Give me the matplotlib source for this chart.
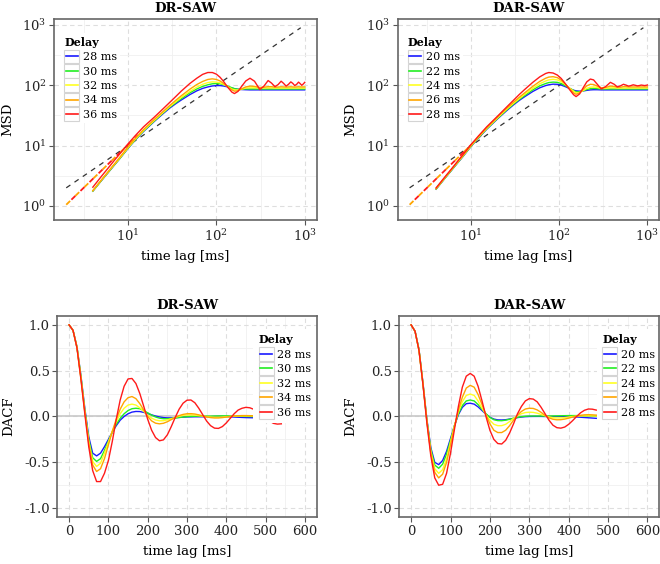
import numpy as np
import matplotlib
matplotlib.use('Agg')
import matplotlib.pyplot as plt
from matplotlib.legend_handler import HandlerBase
from matplotlib.patches import Rectangle
from matplotlib.lines import Line2D
from matplotlib.ticker import FixedLocator, LogFormatterSciNotation, FormatStrFormatter

plt.rcParams['font.family'] = ['DejaVu Serif']
plt.rcParams['mathtext.fontset'] = 'dejavuserif'

# ---------------- data ----------------
colors = ['#1a1aff', '#22ee22', '#ffff22', '#ffa500', '#ff1a1a']
dr_delays = ['28 ms', '30 ms', '32 ms', '34 ms', '36 ms']
dar_delays = ['20 ms', '22 ms', '24 ms', '26 ms', '28 ms']

# MSD, DR-SAW
dr_lag = [4, 5, 6, 7, 8, 10, 12, 15, 20, 25, 30, 35, 40, 50, 60, 70, 80, 90, 100, 110,
          120, 135, 150, 160, 175, 195, 215, 240, 270, 310, 345, 385, 420, 460, 500, 540,
          575, 615, 655, 695, 730, 770, 810, 850, 885, 925, 960, 1000]
dr_msd_28 = [1.76, 2.63, 3.62, 4.75, 6.0, 9.0, 12.3, 17.2, 25.5, 34, 42.5, 50, 57, 70, 81, 89,
             94, 97.5, 99, 99, 97.5, 94, 90, 88, 86, 85, 84.5, 84, 84, 84, 84, 84, 84, 84, 84,
             84, 84, 84, 84, 84, 84, 84, 84, 84, 84, 84, 84, 84]
dr_msd_30 = [1.77, 2.65, 3.65, 4.8, 6.05, 9.1, 12.4, 17.5, 26, 35, 44, 52, 60, 75, 87, 96,
             102, 106, 107, 106, 103, 97, 91, 88, 86, 86, 87, 87, 87, 87, 87, 87, 87, 87, 87,
             87, 87, 87, 87, 87, 87, 87, 87, 87, 87, 87, 87, 87]
dr_msd_32 = [1.78, 2.67, 3.7, 4.85, 6.1, 9.2, 12.6, 17.8, 26.5, 35.5, 45, 54, 63, 79, 93, 104,
             111, 114, 113, 110, 104, 95, 87, 84, 84, 87, 90, 91, 91, 90, 90, 90.5, 90.5, 90,
             90, 90, 90, 90, 90, 90, 90, 90, 90, 90, 90, 90, 90, 90]
dr_msd_34 = [1.8, 2.7, 3.75, 4.95, 6.3, 9.5, 13, 18.5, 27.5, 37, 47, 57, 67, 86, 103, 116,
             125, 128, 125, 118, 108, 94, 84, 80, 81, 88, 94, 97, 96, 92, 93, 95, 95, 93,
             93.5, 94.5, 94, 93.5, 94, 94.5, 94, 93.5, 94, 94.5, 94, 94, 94, 94]
dr_msd_36 = [2.05, 3.1, 4.3, 5.7, 7.2, 10.7, 14.5, 20.5, 30, 41, 53, 66, 80, 107, 131, 152,
             163, 163, 153, 136, 117, 92, 77, 73, 79, 98, 118, 131, 117, 85, 97, 120, 109, 95,
             103, 117, 108, 97, 104, 114, 108, 99, 104, 113, 107, 100, 105, 112]

# MSD, DAR-SAW
dar_lag = [4, 5, 6, 7, 8, 10, 12, 15, 20, 25, 30, 35, 40, 50, 60, 70, 76, 85, 95, 105, 115,
           130, 145, 155, 170, 190, 205, 225, 245, 270, 300, 335, 380, 420, 455, 495, 535,
           570, 610, 650, 690, 730, 770, 810, 850, 890, 930, 965, 1000]
dar_msd_20 = [1.9, 2.84, 3.92, 5.15, 6.5, 9.8, 13.2, 18.7, 28, 37.5, 47, 56, 64, 79, 91, 99,
              102, 104.5, 104, 101, 96, 89, 83, 81, 80, 81, 82.5, 84, 84.5, 84.5, 84, 84, 84,
              84, 84, 84, 84, 84, 84, 84, 84, 84, 84, 84, 84, 84, 84, 84, 84]
dar_msd_22 = [1.92, 2.86, 3.95, 5.2, 6.6, 9.9, 13.4, 19, 28.5, 38.5, 48.5, 58, 67, 84, 98, 107,
              111, 113, 112, 107, 100, 90, 82, 78, 78, 82, 85, 88, 89, 88, 87, 87, 87, 87, 87,
              87, 87, 87, 87, 87, 87, 87, 87, 87, 87, 87, 87, 87, 87]
dar_msd_24 = [1.93, 2.88, 4.0, 5.25, 6.65, 10.0, 13.6, 19.3, 29, 39.5, 50, 60, 70, 89, 106, 118,
              123, 126, 123, 115, 105, 91, 80, 75, 76, 83, 89, 93, 94, 92, 89, 89, 91, 91, 90,
              90, 90, 90, 90, 90, 90, 90, 90, 90, 90, 90, 90, 90, 90]
dar_msd_26 = [1.95, 2.92, 4.05, 5.35, 6.8, 10.2, 13.9, 19.8, 30, 41, 52, 63, 74, 96, 116, 131,
              137, 139, 134, 122, 108, 89, 75, 71, 75, 88, 98, 104, 103, 97, 91, 92, 97, 96,
              93, 93, 95, 95, 94, 94, 94, 94, 94, 94, 94, 94, 94, 94, 94]
dar_msd_28 = [2.0, 3.0, 4.15, 5.5, 7.0, 10.5, 14.3, 20.5, 31, 43, 56, 70, 84, 112, 138, 157,
              163, 160, 148, 130, 110, 86, 70, 65, 72, 95, 114, 127, 123, 104, 87, 95, 112, 104,
              94, 98, 104, 101, 97, 99, 102, 100, 98, 99, 101, 100, 99, 100, 101]

# reference lines on the MSD panels
ref_lag = [2, 900]
ref_msd = [2, 900]
short_lag = [2, 13]
short_msd = [1.05, 15]

# DACF
dacf_lag = list(range(0, 480, 10))
dacf_lag_long = list(range(0, 550, 10))
dr_dacf_28 = [1.0, 0.94, 0.76, 0.45, 0.09, -0.22, -0.4, -0.43, -0.4, -0.33, -0.25, -0.17, -0.1,
              -0.04, 0.0, 0.03, 0.048, 0.055, 0.054, 0.045, 0.032, 0.018, 0.005, -0.005, -0.012,
              -0.015, -0.015, -0.013, -0.01, -0.007, -0.005, -0.004, -0.003, -0.003, -0.003,
              -0.003, -0.002, 0.0, 0.001, 0.0, -0.002, -0.004, -0.006, -0.008, -0.01, -0.012,
              -0.013, -0.014]
dr_dacf_30 = [1.0, 0.94, 0.76, 0.44, 0.07, -0.25, -0.45, -0.49, -0.46, -0.37, -0.27, -0.17,
              -0.085, -0.02, 0.03, 0.065, 0.085, 0.09, 0.085, 0.065, 0.04, 0.015, -0.005, -0.018,
              -0.024, -0.025, -0.022, -0.017, -0.011, -0.006, -0.002, 0.001, 0.003, 0.004, 0.004,
              0.004, 0.004, 0.005, 0.006, 0.007, 0.007, 0.006, 0.005, 0.004, 0.002, 0.001, 0.0, 0.0]
dr_dacf_32 = [1.0, 0.94, 0.76, 0.43, 0.06, -0.27, -0.49, -0.545, -0.51, -0.4, -0.28, -0.16,
              -0.06, 0.03, 0.09, 0.125, 0.135, 0.125, 0.095, 0.055, 0.015, -0.018, -0.038, -0.047,
              -0.046, -0.037, -0.024, -0.01, 0.003, 0.012, 0.017, 0.018, 0.015, 0.01, 0.004,
              -0.002, -0.006, -0.008, -0.008, -0.006, -0.003, 0.0, 0.003, 0.005, 0.006, 0.006,
              0.006, 0.005]
dr_dacf_34 = [1.0, 0.94, 0.75, 0.42, 0.05, -0.29, -0.53, -0.6, -0.57, -0.46, -0.31, -0.16, -0.03,
              0.08, 0.16, 0.205, 0.218, 0.195, 0.14, 0.07, 0.0, -0.048, -0.073, -0.08, -0.074,
              -0.057, -0.034, -0.01, 0.01, 0.023, 0.03, 0.031, 0.027, 0.018, 0.007, -0.004,
              -0.012, -0.016, -0.016, -0.012, -0.006, 0.0, 0.005, 0.008, 0.01, 0.01, 0.009, 0.008]
dr_dacf_36 = [1.0, 0.94, 0.75, 0.41, 0.03, -0.33, -0.59, -0.71, -0.71, -0.62, -0.48, -0.27,
              -0.03, 0.18, 0.33, 0.41, 0.415, 0.36, 0.25, 0.11, -0.03, -0.15, -0.23, -0.265,
              -0.255, -0.2, -0.11, -0.01, 0.08, 0.145, 0.178, 0.18, 0.15, 0.09, 0.02, -0.05,
              -0.1, -0.127, -0.13, -0.11, -0.07, -0.02, 0.03, 0.07, 0.09, 0.1, 0.095, 0.078,
              0.045, 0.01, -0.025, -0.05, -0.075, -0.083, -0.08]
dar_dacf_20 = [1.0, 0.93, 0.73, 0.37, -0.03, -0.34, -0.5, -0.525, -0.48, -0.38, -0.24, -0.1,
               0.02, 0.1, 0.14, 0.145, 0.135, 0.105, 0.065, 0.025, -0.008, -0.028, -0.037,
               -0.038, -0.035, -0.028, -0.02, -0.012, -0.006, -0.002, 0.0, 0.001, 0.001, 0.001,
               0.0, 0.0, 0.0, 0.0, 0.0, 0.0, -0.001, -0.003, -0.005, -0.008, -0.011, -0.014,
               -0.017, -0.02]
dar_dacf_22 = [1.0, 0.93, 0.73, 0.36, -0.04, -0.36, -0.53, -0.565, -0.52, -0.41, -0.26, -0.1,
               0.03, 0.12, 0.17, 0.18, 0.17, 0.13, 0.08, 0.03, -0.01, -0.035, -0.045, -0.046,
               -0.04, -0.03, -0.02, -0.01, -0.002, 0.003, 0.005, 0.005, 0.005, 0.005, 0.005,
               0.005, 0.006, 0.007, 0.008, 0.009, 0.01, 0.01, 0.01, 0.009, 0.008, 0.007, 0.006,
               0.005]
dar_dacf_24 = [1.0, 0.93, 0.72, 0.36, -0.05, -0.38, -0.57, -0.62, -0.58, -0.46, -0.28, -0.1,
               0.05, 0.16, 0.23, 0.245, 0.23, 0.17, 0.09, 0.02, -0.04, -0.085, -0.1, -0.1,
               -0.085, -0.055, -0.02, 0.01, 0.03, 0.043, 0.047, 0.045, 0.036, 0.022, 0.008,
               -0.005, -0.013, -0.016, -0.016, -0.012, -0.006, 0.0, 0.004, 0.007, 0.008, 0.008,
               0.007, 0.006]
dar_dacf_26 = [1.0, 0.93, 0.72, 0.36, -0.05, -0.4, -0.61, -0.67, -0.63, -0.5, -0.31, -0.11,
               0.07, 0.21, 0.31, 0.34, 0.32, 0.24, 0.13, 0.02, -0.08, -0.15, -0.175, -0.175,
               -0.15, -0.1, -0.04, 0.015, 0.055, 0.082, 0.09, 0.088, 0.072, 0.045, 0.012,
               -0.015, -0.03, -0.036, -0.035, -0.028, -0.018, -0.006, 0.005, 0.013, 0.018,
               0.02, 0.018, 0.015]
dar_dacf_28 = [1.0, 0.93, 0.72, 0.35, -0.07, -0.43, -0.67, -0.75, -0.74, -0.62, -0.4, -0.14,
               0.11, 0.32, 0.44, 0.47, 0.44, 0.33, 0.17, 0.0, -0.15, -0.25, -0.295, -0.3,
               -0.26, -0.18, -0.08, 0.03, 0.11, 0.17, 0.195, 0.19, 0.16, 0.1, 0.03, -0.04,
               -0.095, -0.122, -0.127, -0.115, -0.085, -0.045, 0.0, 0.04, 0.068, 0.082, 0.08,
               0.07]

# ---------------- helpers ----------------
W, H = 660, 564
fig = plt.figure(figsize=(W / 100, H / 100), dpi=100)


def px_axes(l, t, r, b):
    return fig.add_axes([l / W, 1 - b / H, (r - l) / W, (b - t) / H])


class KeyHandler(HandlerBase):
    # legend key: white box with a light grey border and the line across it
    def create_artists(self, legend, orig_handle, xdescent, ydescent, width, height, fontsize, trans):
        gap = 0.33 * fontsize
        box = Rectangle((-xdescent, -ydescent - gap / 2), width, height + gap, fc='white',
                        ec='#d4d4d4', lw=0.8, transform=trans)
        ln = Line2D([-xdescent + 1, -xdescent + width - 1], [height / 2 - ydescent] * 2,
                    color=orig_handle.get_color(), lw=1.2, transform=trans)
        return [box, ln]


def style(ax, title, ylabel):
    ax.set_title(title, fontsize=9.5, fontweight='bold', pad=5)
    ax.set_xlabel('time lag [ms]', fontsize=9.5, labelpad=5)
    ax.set_ylabel(ylabel, fontsize=9.5, labelpad=6)
    for s in ax.spines.values():
        s.set_color('#666666')
        s.set_linewidth(1.2)
    ax.tick_params(which='major', direction='out', length=3.5, width=0.8, color='#555555',
                   labelsize=9.5, labelcolor='#222222', pad=2)
    ax.tick_params(which='minor', length=0)
    ax.grid(which='major', color='#dedede', lw=0.8, ls=(0, (4, 3)))
    ax.grid(which='minor', color='#f0f0f0', lw=0.6)
    ax.set_axisbelow(True)


def add_legend(ax, labels, lines, anchor, pad=0.3):
    leg = ax.legend(lines, labels, title='Delay', loc='upper left', bbox_to_anchor=anchor,
                    frameon=True, fancybox=False, edgecolor='none', facecolor='white',
                    framealpha=1, fontsize=8, title_fontsize=8, handlelength=1.35,
                    handleheight=1.0, handletextpad=0.3, labelspacing=0.33, borderpad=pad,
                    borderaxespad=0, handler_map={Line2D: KeyHandler()})
    leg.get_title().set_fontweight('bold')
    leg._legend_box.align = 'left'
    # above the curves, below the frame
    leg.set_zorder(2.4)
    return leg


def msd_panel(ax, title, lag, series, labels, anchor):
    ax.set_xscale('log')
    ax.set_yscale('log')
    ax.plot(ref_lag, ref_msd, color='#333333', lw=0.9, ls=(0, (4, 4)))
    ax.plot(short_lag, short_msd, color='#ffa500', lw=1.3, ls=(0, (3, 4)))
    ax.plot(short_lag, short_msd, color='#ff1a1a', lw=1.3, ls=(3, (3, 4)))
    lines = []
    for y, c in zip(series, colors):
        lines += ax.plot(lag, y, color=c, lw=1.0)
    ax.set_xlim(10 ** 0.166, 10 ** 3.135)
    ax.set_ylim(10 ** -0.232, 10 ** 3.094)
    ax.xaxis.set_major_locator(FixedLocator([10, 100, 1000]))
    ax.yaxis.set_major_locator(FixedLocator([1, 10, 100, 1000]))
    ax.xaxis.set_major_formatter(LogFormatterSciNotation())
    ax.yaxis.set_major_formatter(LogFormatterSciNotation())
    half = [10 ** (k + 0.5) for k in range(-1, 4)]
    ax.xaxis.set_minor_locator(FixedLocator(half))
    ax.yaxis.set_minor_locator(FixedLocator(half))
    style(ax, title, 'MSD')
    add_legend(ax, labels, lines, anchor)


def dacf_panel(ax, title, series, labels, anchor):
    ax.axhline(0, color='#c8c8c8', lw=1.2, zorder=1)
    lines = []
    for y, c in zip(series, colors):
        x = dacf_lag_long if len(y) == len(dacf_lag_long) else dacf_lag
        lines += ax.plot(x, y, color=c, lw=1.0)
    ax.set_xlim(-30, 630)
    ax.set_ylim(-1.1, 1.1)
    ax.xaxis.set_major_locator(FixedLocator([0, 100, 200, 300, 400, 500, 600]))
    ax.yaxis.set_major_locator(FixedLocator([-1, -0.5, 0, 0.5, 1]))
    ax.yaxis.set_major_formatter(FormatStrFormatter('%.1f'))
    ax.xaxis.set_minor_locator(FixedLocator([-50, 50, 150, 250, 350, 450, 550]))
    ax.yaxis.set_minor_locator(FixedLocator([-0.75, -0.25, 0.25, 0.75]))
    style(ax, title, 'DACF')
    add_legend(ax, labels, lines, anchor, pad=0.5)


ax1 = px_axes(54.3, 19.3, 316.7, 220)
msd_panel(ax1, 'DR-SAW', dr_lag, [dr_msd_28, dr_msd_30, dr_msd_32, dr_msd_34, dr_msd_36],
          dr_delays, (0.025, 0.93))
ax2 = px_axes(397.7, 19.3, 659.3, 220)
msd_panel(ax2, 'DAR-SAW', dar_lag, [dar_msd_20, dar_msd_22, dar_msd_24, dar_msd_26, dar_msd_28],
          dar_delays, (0.025, 0.93))
ax3 = px_axes(57.3, 315.7, 316.7, 517.3)
dacf_panel(ax3, 'DR-SAW', [dr_dacf_28, dr_dacf_30, dr_dacf_32, dr_dacf_34, dr_dacf_36],
           dr_delays, (0.755, 0.935))
ax4 = px_axes(399.3, 315.7, 659.3, 517.3)
dacf_panel(ax4, 'DAR-SAW', [dar_dacf_20, dar_dacf_22, dar_dacf_24, dar_dacf_26, dar_dacf_28],
           dar_delays, (0.76, 0.935))

fig.savefig('out.png', dpi=100)
